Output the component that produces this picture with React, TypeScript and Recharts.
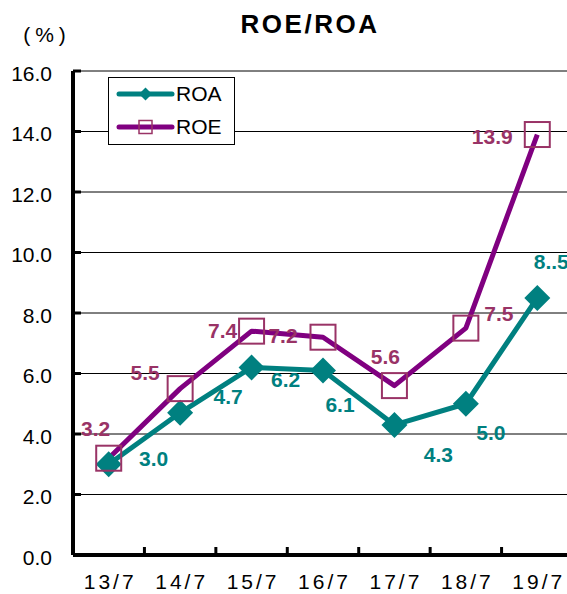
import React from "react";
import { LineChart, Line, XAxis, YAxis, CartesianGrid } from "recharts";

const periods = ["13/7", "14/7", "15/7", "16/7", "17/7", "18/7", "19/7"];
const roa = [3.0, 4.7, 6.2, 6.1, 4.3, 5.0, 8.5];
const roe = [3.2, 5.5, 7.4, 7.2, 5.6, 7.5, 13.9];
const roaLabels = ["3.0", "4.7", "6.2", "6.1", "4.3", "5.0", "8..5"];
const roeLabels = ["3.2", "5.5", "7.4", "7.2", "5.6", "7.5", "13.9"];
const yTicks = [0, 2, 4, 6, 8, 10, 12, 14, 16];

// where each value label sits relative to its point
const roaOffsets = [[45, -6], [48, -16], [34, 12], [17, 34], [44, 30], [25, 29], [14, -36]];
const roeOffsets = [[-13, -30], [-35, -16], [-29, -1], [-40, -2], [-9, -29], [33, -15], [-45, 2]];

const data = periods.map((p, i) => ({ period: p, ROA: roa[i], ROE: roe[i] }));

const TEAL = "#008080";
const PURPLE = "#800080";
const MAROON = "#993366";
const FONT = "'Liberation Sans', Arial, sans-serif";

const CHART_W = 575;
const CHART_H = 594;
const AXIS_X = 73;
const AXIS_Y = 555;
const BAND = (CHART_W - 2 - AXIS_X) / periods.length;

const XTick = (props: any) => {
  const { x, payload } = props;
  return (
    <g>
      <line x1={x + BAND / 2} x2={x + BAND / 2} y1={AXIS_Y} y2={AXIS_Y - 8} stroke="#000" strokeWidth={3} />
      <text x={x + 1.5} y={574} dy="0.71em" textAnchor="middle" fontSize={21} letterSpacing={3} fontFamily={FONT} fill="#000">
        {payload.value}
      </text>
    </g>
  );
};

const YTick = (props: any) => {
  const { x, y, payload } = props;
  return (
    <g>
      <line x1={AXIS_X} x2={AXIS_X + 8} y1={y} y2={y} stroke="#000" strokeWidth={3} />
      <text x={x} y={y + 2} dy="0.36em" textAnchor="end" fontSize={21} fontFamily={FONT} fill="#000">
        {Number(payload.value).toFixed(1)}
      </text>
    </g>
  );
};

const Diamond = (p: any) => {
  const { cx, cy, index } = p;
  if (cx == null || cy == null) return <g key={`rd${index}`} />;
  const r = 13;
  return (
    <polygon
      key={`rd${index}`}
      points={`${cx},${cy - r} ${cx + r},${cy} ${cx},${cy + r} ${cx - r},${cy}`}
      fill={TEAL}
    />
  );
};

const Square = (p: any) => {
  const { cx, cy, index } = p;
  if (cx == null || cy == null) return <g key={`es${index}`} />;
  const r = 12.5;
  return (
    <rect key={`es${index}`} x={cx - r} y={cy - r} width={2 * r} height={2 * r} fill="none" stroke={MAROON} strokeWidth={2} />
  );
};

const makeLabel = (texts: string[], offsets: number[][], color: string) => (p: any) => {
  const i = p.index;
  return (
    <text
      key={`lbl${color}${i}`}
      x={p.x + offsets[i][0]}
      y={p.y + offsets[i][1]}
      dy="0.36em"
      textAnchor="middle"
      fontSize={21}
      fontWeight="bold"
      fontFamily={FONT}
      fill={color}
    >
      {texts[i]}
    </text>
  );
};

export default function App() {
  return (
    <div style={{ position: "absolute", left: 0, top: 0, width: 567, height: 594, overflow: "hidden", background: "#fff" }}>
      <LineChart width={CHART_W} height={CHART_H} data={data} margin={{ top: 71, right: 2, bottom: 0, left: 0 }}>
        <CartesianGrid vertical={false} stroke="#000" strokeWidth={1} />
        <XAxis
          dataKey="period"
          tick={<XTick />}
          tickLine={false}
          tickSize={0}
          tickMargin={18}
          axisLine={{ stroke: "#000", strokeWidth: 4 }}
          height={39}
          interval={0}
          padding={{ left: BAND / 2, right: BAND / 2 }}
        />
        <YAxis
          domain={[0, 16]}
          ticks={yTicks}
          tick={<YTick />}
          tickLine={false}
          tickSize={0}
          tickMargin={21}
          axisLine={{ stroke: "#000", strokeWidth: 4 }}
          width={AXIS_X}
          interval={0}
        />
        <Line
          dataKey="ROA"
          type="linear"
          stroke={TEAL}
          strokeWidth={5}
          strokeLinejoin="round"
          dot={Diamond}
          label={makeLabel(roaLabels, roaOffsets, TEAL)}
          isAnimationActive={false}
        />
        <Line
          dataKey="ROE"
          type="linear"
          stroke={PURPLE}
          strokeWidth={5}
          strokeLinejoin="round"
          dot={Square}
          label={makeLabel(roeLabels, roeOffsets, MAROON)}
          isAnimationActive={false}
        />
      </LineChart>
      <svg width={567} height={594} style={{ position: "absolute", left: 0, top: 0, pointerEvents: "none" }}>
        <text x={310} y={33} textAnchor="middle" fontSize={26} fontWeight="bold" letterSpacing={2.5} fontFamily={FONT} fill="#000">
          ROE/ROA
        </text>
        <text x={47} y={42} textAnchor="middle" fontSize={21} letterSpacing={5} fontFamily={FONT} fill="#000">
          (%)
        </text>
        <rect x={108.5} y={77.5} width={126} height={67} fill="#fff" stroke="#000" strokeWidth={1} />
        <line x1={119} x2={172} y1={94} y2={94} stroke={TEAL} strokeWidth={5} strokeLinecap="round" />
        <polygon points="145.5,87.5 152,94 145.5,100.5 139,94" fill={TEAL} />
        <text x={176} y={101} fontSize={21} fontFamily={FONT} fill="#000">ROA</text>
        <line x1={119} x2={172} y1={127} y2={127} stroke={PURPLE} strokeWidth={5} strokeLinecap="round" />
        <rect x={139} y={120.5} width={13} height={13} fill="none" stroke={MAROON} strokeWidth={1.5} />
        <text x={176} y={134} fontSize={21} fontFamily={FONT} fill="#000">ROE</text>
      </svg>
    </div>
  );
}
